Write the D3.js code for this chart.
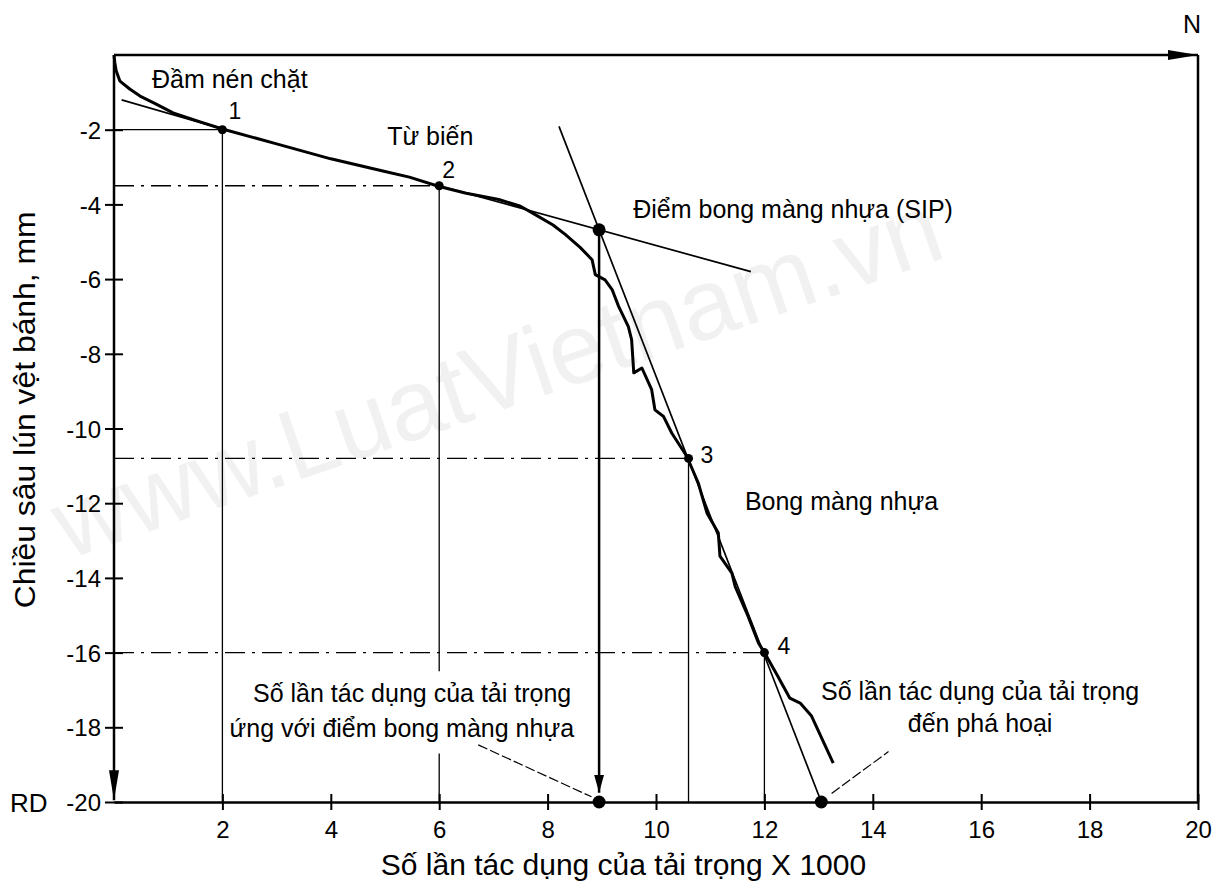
<!DOCTYPE html>
<html>
<head>
<meta charset="utf-8">
<script src="https://cdn.jsdelivr.net/npm/d3@7"></script>
<style>
    body { margin: 0; background: #fff; }
    svg text { font-family: "Liberation Sans", Arial, sans-serif; fill: #000; }
</style>
</head>
<body>
<svg id="chart" width="1227" height="887"></svg>
<script>
(function (d3) {
    "use strict";

    /***** Données *****/

    // Courbe d'orniérage mesurée (x = nb de passages x1000, y = profondeur mm)
    var curveX = [0, 0.015, 0.04, 0.11, 0.29, 0.48, 0.76, 1.09, 1.59, 2.0, 3.0, 4.0, 5.0, 5.45, 6.0, 6.5,
        7.1, 7.5, 7.78, 8.1, 8.33, 8.6, 8.82, 8.88, 9.06, 9.19, 9.31, 9.49, 9.55, 9.59, 9.74, 9.92, 9.98,
        10.14, 10.29, 10.57, 10.78, 10.94, 11.15, 11.18, 11.4, 11.46, 11.7, 11.89, 12.0, 12.25, 12.47,
        12.66, 12.87, 13.27];
    var curveY = [0, -0.2, -0.42, -0.7, -0.91, -1.1, -1.3, -1.55, -1.79, -1.98, -2.38, -2.78, -3.12, -3.27,
        -3.52, -3.7, -3.87, -4.05, -4.28, -4.55, -4.81, -5.15, -5.48, -5.88, -6.02, -6.28, -6.73, -7.27,
        -7.62, -8.51, -8.38, -8.96, -9.5, -9.68, -10.12, -10.75, -11.46, -12.26, -12.8, -13.42, -13.87,
        -14.23, -15.03, -15.74, -16.0, -16.64, -17.22, -17.35, -17.7, -18.96];

    // Points caractéristiques 1..4
    var keyNames = ["1", "2", "3", "4"];
    var keyX = [2, 6, 10.6, 12];
    var keyY = [-2, -3.5, -10.8, -16];

    // Point de bong màng nhựa (SIP) et rupture
    var sipX = 8.95, sipY = -4.68;
    var failX = 13.05, rdY = -20;

    // Tangentes
    var initTangentX = [0.14, 2.0], initTangentY = [-1.2, -1.98];
    var creepTangentX = [6.0, 11.75], creepTangentY = [-3.5, -5.8];
    var steepTangentX = [8.21, 13.05], steepTangentY = [-1.91, -20];

    // Graduations
    var xTicks = [2, 4, 6, 8, 10, 12, 14, 16, 18, 20];
    var yTicks = [-2, -4, -6, -8, -10, -12, -14, -16, -18, -20];

    /***** Configuration *****/
    var svg = d3.select("#chart");
    var x = d3.scaleLinear().domain([0, 20]).range([114, 1198]);
    var y = d3.scaleLinear().domain([0, -20]).range([55, 802]);
    var line = d3.line().x(d => x(d[0])).y(d => y(d[1]));

    // Filigrane
    svg.append("text")
        .attr("transform", "translate(508,408) rotate(-19)")
        .attr("text-anchor", "middle")
        .style("font-size", "100px")
        .style("fill", "#f1f1f1")
        .text("www.LuatVietnam.vn");

    // Flèches
    var defs = svg.append("defs");
    function marker(id, len, half) {
        defs.append("marker")
            .attr("id", id)
            .attr("markerUnits", "userSpaceOnUse")
            .attr("markerWidth", len).attr("markerHeight", half * 2)
            .attr("refX", len).attr("refY", half)
            .attr("orient", "auto")
            .append("path")
            .attr("d", "M0,0 L" + len + "," + half + " L0," + (half * 2) + " Z")
            .attr("fill", "#000");
    }
    marker("arrowLong", 30, 5);
    marker("arrowShort", 18, 5);

    /***** Lignes de rappel *****/
    var guidesSolid = [
        [[0, keyY[0]], [keyX[0], keyY[0]]],
        [[keyX[0], keyY[0]], [keyX[0], rdY]],
        [[keyX[1], keyY[1]], [keyX[1], -16.5]],
        [[keyX[1], -18.7], [keyX[1], rdY]],
        [[keyX[2], keyY[2]], [keyX[2], rdY]],
        [[keyX[3], keyY[3]], [keyX[3], rdY]]
    ];
    var guidesDash = [
        [[0, keyY[1]], [keyX[1], keyY[1]]],
        [[0, keyY[2]], [keyX[2], keyY[2]]],
        [[0, keyY[3]], [keyX[3], keyY[3]]]
    ];
    svg.selectAll(".guide").data(guidesSolid).enter().append("path")
        .attr("d", line).attr("stroke", "#000").attr("stroke-width", 1.3).attr("fill", "none");
    svg.selectAll(".guideDash").data(guidesDash).enter().append("path")
        .attr("d", line).attr("stroke", "#000").attr("stroke-width", 1.3).attr("fill", "none")
        .attr("stroke-dasharray", "20,7,3,7");

    /***** Axes *****/
    var xAxis = d3.axisBottom(x).tickValues(xTicks).tickSize(8).tickSizeOuter(0)
        .tickFormat(d => String(d));
    var gx = svg.append("g").attr("transform", "translate(0," + y(-20) + ")").call(xAxis);
    gx.select(".domain").attr("stroke-width", 2.5);
    gx.selectAll(".tick line").attr("y1", -8).attr("y2", 8).attr("stroke-width", 2);
    gx.selectAll(".tick text").attr("y", 19).style("font-size", "24px");

    var yAxis = d3.axisLeft(y).tickValues(yTicks).tickSize(9).tickSizeOuter(0)
        .tickFormat(d => String(d));
    var gy = svg.append("g").attr("transform", "translate(" + x(0) + ",0)").call(yAxis);
    gy.select(".domain").remove();
    gy.selectAll(".tick line").attr("x1", -9).attr("x2", 9).attr("stroke-width", 2);
    gy.selectAll(".tick text").attr("x", -13).attr("dy", "0.36em").style("font-size", "24px");

    // Axe N (haut), axe RD (gauche), bord droit
    svg.append("path").attr("d", line([[0, 0], [20, 0]]))
        .attr("stroke", "#000").attr("stroke-width", 2.5).attr("marker-end", "url(#arrowLong)");
    svg.append("path").attr("d", line([[0, 0], [0, -19.95]]))
        .attr("stroke", "#000").attr("stroke-width", 2.5).attr("marker-end", "url(#arrowLong)");
    svg.append("path").attr("d", line([[20, 0], [20, -20]]))
        .attr("stroke", "#000").attr("stroke-width", 2.5);

    svg.append("text").attr("x", x(20) - 6).attr("y", y(0) - 22)
        .attr("text-anchor", "middle").style("font-size", "25px").text("N");
    svg.append("text").attr("x", 10).attr("y", y(-20) + 10)
        .style("font-size", "26px").text("RD");

    // Titres des axes
    svg.append("text")
        .attr("transform", "translate(35," + ((y(-4) + y(-15)) / 2) + ") rotate(-90)")
        .attr("text-anchor", "middle").style("font-size", "29px")
        .attr("textLength", 397).attr("lengthAdjust", "spacingAndGlyphs")
        .text("Chiều sâu lún vệt bánh, mm");
    svg.append("text").attr("x", x(9.4)).attr("y", y(-20) + 73)
        .attr("text-anchor", "middle").style("font-size", "30px")
        .text("Số lần tác dụng của tải trọng X 1000");

    /***** Tangentes *****/
    var tangents = [
        d3.zip(initTangentX, initTangentY),
        d3.zip(creepTangentX, creepTangentY),
        d3.zip(steepTangentX, steepTangentY)
    ];
    svg.selectAll(".tangent").data(tangents).enter().append("path")
        .attr("d", line).attr("stroke", "#000").attr("stroke-width", 1.7).attr("fill", "none");

    // Descente du SIP vers l'axe
    svg.append("path").attr("d", line([[sipX, sipY], [sipX, -19.75]]))
        .attr("stroke", "#000").attr("stroke-width", 2.5).attr("marker-end", "url(#arrowShort)");

    /***** Courbe *****/
    svg.append("path")
        .attr("d", line(d3.zip(curveX, curveY)))
        .attr("fill", "none").attr("stroke", "#000").attr("stroke-width", 3)
        .attr("stroke-linejoin", "round");

    /***** Points *****/
    var labelOffset = [[6, -11], [3, -8], [12, 5], [13, 1]];
    svg.selectAll(".key").data(keyNames).enter().append("circle")
        .attr("cx", (d, i) => x(keyX[i])).attr("cy", (d, i) => y(keyY[i])).attr("r", 4.5);
    svg.selectAll(".keyLabel").data(keyNames).enter().append("text")
        .attr("x", (d, i) => x(keyX[i]) + labelOffset[i][0])
        .attr("y", (d, i) => y(keyY[i]) + labelOffset[i][1])
        .style("font-size", "23px").text(d => d);

    svg.append("circle").attr("cx", x(sipX)).attr("cy", y(sipY)).attr("r", 6.5);
    svg.append("circle").attr("cx", x(sipX)).attr("cy", y(rdY)).attr("r", 6.5);
    svg.append("circle").attr("cx", x(failX)).attr("cy", y(rdY)).attr("r", 6.5);

    /***** Annotations *****/
    var notes = [
        {t: "Đầm nén chặt", x: 0.7, y: -0.88, a: "start"},
        {t: "Từ biến", x: 5.04, y: -2.41, a: "start"},
        {t: "Điểm bong màng nhựa (SIP)", x: 9.58, y: -4.37, a: "start"},
        {t: "Bong màng nhựa", x: 11.64, y: -12.18, a: "start"},
        {t: "Số lần tác dụng của tải trọng", x: 5.5, y: -17.31, a: "middle"},
        {t: "ứng với điểm bong màng nhựa", x: 5.31, y: -18.25, a: "middle"},
        {t: "Số lần tác dụng của tải trọng", x: 15.98, y: -17.27, a: "middle"},
        {t: "đến phá hoại", x: 15.98, y: -18.12, a: "middle"}
    ];
    svg.selectAll(".note").data(notes).enter().append("text")
        .attr("x", d => x(d.x)).attr("y", d => y(d.y))
        .attr("text-anchor", d => d.a).style("font-size", "25px")
        .text(d => d.t);

    // Traits de renvoi
    var leaders = [
        [[6.72, -18.47], [8.81, -19.86]],
        [[13.24, -19.77], [14.29, -18.65]]
    ];
    svg.selectAll(".leader").data(leaders).enter().append("path")
        .attr("d", line).attr("stroke", "#000").attr("stroke-width", 1.2)
        .attr("stroke-dasharray", "10,3").attr("fill", "none");

})(d3);
</script>
</body>
</html>
